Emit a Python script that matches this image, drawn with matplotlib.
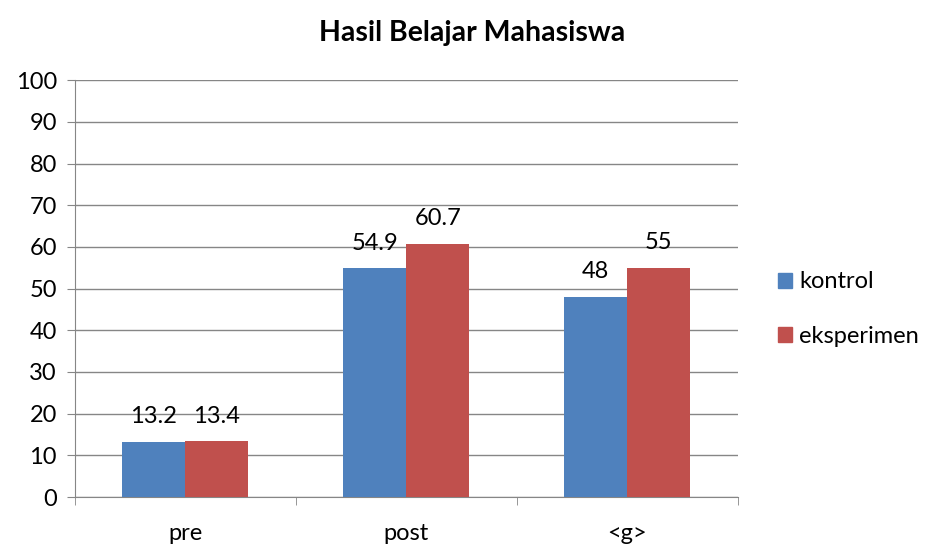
import numpy as np
import matplotlib.pyplot as plt
from matplotlib.patches import Patch

categories = ["pre", "post", "<g>"]
kontrol = [13.2, 54.9, 48]
eksperimen = [13.4, 60.7, 55]
series_names = ["kontrol", "eksperimen"]
y_ticks = list(range(0, 101, 10))

plt.rcParams["font.family"] = ["Lato", "DejaVu Sans"]

fig = plt.figure(figsize=(9.28, 5.45), dpi=100)
ax = fig.add_axes([0.0808, 0.088, 0.714, 0.765])

x = np.arange(len(categories))
w = 0.285
blue = "#4F81BD"
red = "#C0504D"
grid_c = "#868686"
fs = 17

b1 = ax.bar(x - w / 2, kontrol, w, color=blue, zorder=3)
b2 = ax.bar(x + w / 2, eksperimen, w, color=red, zorder=3)

for bars, vals in ((b1, kontrol), (b2, eksperimen)):
    for rect, v in zip(bars, vals):
        ax.text(rect.get_x() + rect.get_width() / 2, v + 3.5, f"{v:g}",
                ha="center", va="bottom", fontsize=fs, zorder=4)

ax.set_xlim(-0.5, len(categories) - 0.5)
ax.set_ylim(0, 100)
ax.set_yticks(y_ticks)
ax.tick_params(axis="y", labelsize=fs, length=6, color=grid_c, pad=7)
ax.yaxis.grid(True, color=grid_c, linewidth=1, zorder=0)
ax.set_axisbelow(True)

ax.set_xticks(x)
ax.set_xticklabels(categories, fontsize=fs)
ax.tick_params(axis="x", length=0, pad=19)
ax.set_xticks(np.arange(-0.5, len(categories)), minor=True)
ax.tick_params(axis="x", which="minor", length=6, color=grid_c)

for side in ("top", "right"):
    ax.spines[side].set_visible(False)
for side in ("left", "bottom"):
    ax.spines[side].set_color(grid_c)

fig.text(472 / 928, 1 - 33 / 545, "Hasil Belajar Mahasiswa", fontsize=20.5,
         fontweight="bold", ha="center", va="center")

handles = [Patch(color=blue), Patch(color=red)]
fig.legend(handles, series_names, loc="center left", bbox_to_anchor=(0.838, 0.433),
           frameon=False, fontsize=fs, handlelength=0.6, handleheight=0.6,
           handletextpad=0.3, labelspacing=1.4, borderpad=0, borderaxespad=0)

fig.savefig("out.png", dpi=100)
